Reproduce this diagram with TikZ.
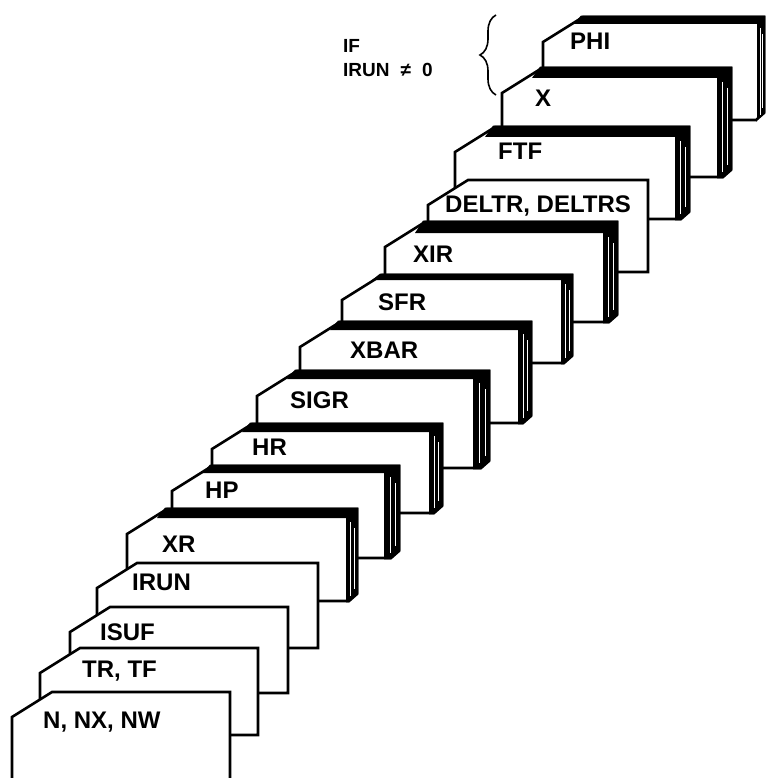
\documentclass[tikz,border=0pt]{standalone}
\usepackage{fontspec}
\setmainfont{Liberation Sans}
\usetikzlibrary{decorations.pathreplacing}
\tikzset{
  cardline/.style={draw=black, line width=2.6pt, fill=white, line join=miter},
  cardlabel/.style={anchor=base west, inner sep=0pt, font=\bfseries\fontsize{24}{28}\selectfont},
  condlabel/.style={anchor=base west, inner sep=0pt, font=\bfseries\fontsize{19}{23}\selectfont},
  stripe/.style={white, line width=0.6pt},
}
% plain card: L T R B name text tx ty
\newcommand\plaincard[8]{%
  \draw[cardline] (#1,#4) -- (#1,#2+25) -- (#1+40,#2) -- (#3,#2) -- (#3,#4) -- cycle;
  \node[cardlabel] (#5) at (#7,#8) {#6};
}
% stacked card: L T R B name text tx ty ; then {topband}{rightband}
\newcommand\stackcard[8]{%
  \def\cL{#1}\def\cT{#2}\def\cR{#3}\def\cB{#4}%
  \def\cname{#5}\def\ctext{#6}\def\ctx{#7}\def\cty{#8}%
  \stackcardrest
}
\newcommand\stackcardrest[2]{%
  \draw[cardline] (\cL,\cB) -- (\cL,\cT+25) -- (\cL+40,\cT) -- (\cR,\cT) -- (\cR,\cB-7) -- (\cR-8,\cB) -- cycle;
  \fill[black] (\cL+38,\cT-1.3) -- (\cR+1.3,\cT-1.3) -- (\cR+1.3,\cB-7.5) -- (\cR-8,\cB+1.3) -- (\cR-#2,\cB+1.3)
     -- (\cR-#2,\cT+#1) -- (\cL+30,\cT+#1) -- cycle;
  \draw[stripe] (\cR-#2*0.6,\cT+#1+4) -- (\cR-#2*0.6,\cB-5);
  \draw[stripe] (\cR-#2*0.25,\cT+#1+10) -- (\cR-#2*0.25,\cB-12);
  \node[cardlabel] (\cname) at (\ctx,\cty) {\ctext};
}
\begin{document}
\begin{tikzpicture}[x=1pt,y=-1pt]
\useasboundingbox (0,0) rectangle (767,778);
\clip (0,0) rectangle (767,778);

\stackcard{543}{17}{764}{120}{phi}{PHI}{570}{50}{7}{7}
\stackcard{502}{68}{731}{177}{x}{X}{535}{107}{10}{14}
\stackcard{455}{127}{689}{219}{ftf}{FTF}{498}{160}{10}{14}
\plaincard{428}{180}{648}{272}{deltr}{DELTR, DELTRS}{445}{212}
\stackcard{385}{222}{617}{322}{xir}{XIR}{413}{262}{11}{14}
\stackcard{342}{275}{572}{363}{sfr}{SFR}{378}{310}{5}{11}
\stackcard{300}{322}{531}{423}{xbar}{XBAR}{350}{358}{8}{13}
\stackcard{257}{371}{489}{468}{sigr}{SIGR}{290}{408}{8}{16}
\stackcard{212}{424}{442}{513}{hr}{HR}{252}{455}{8}{13}
\stackcard{172}{466}{399}{558}{hp}{HP}{205}{498}{7}{15}
\stackcard{127}{509}{357}{601}{xr}{XR}{162}{552}{9}{11}
\plaincard{97}{563}{318}{648}{irun}{IRUN}{132}{590}
\plaincard{70}{607}{288}{693}{isuf}{ISUF}{100}{640}
\plaincard{40}{648}{258}{735}{trtf}{TR, TF}{82}{677}
\plaincard{12}{692}{230}{800}{nnx}{N, NX, NW}{43}{728}

\node[condlabel] (ifl) at (343,53) {IF};
\node[condlabel] (irunl) at (343,77) {IRUN\hspace{11pt}≠\hspace{11pt}0};
\coordinate (bbot) at (496,95);
\coordinate (btop) at (496,15);
\draw[decorate, decoration={brace, amplitude=16pt}, line width=1.6pt] (bbot) -- (btop);
\end{tikzpicture}
\end{document}
